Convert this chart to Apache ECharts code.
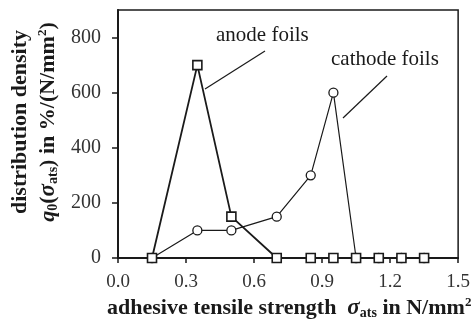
<!DOCTYPE html>
<html>
<head>
<meta charset="utf-8">
<script src="https://cdn.jsdelivr.net/npm/echarts@6/dist/echarts.min.js"></script>
<style>
  html, body { margin: 0; padding: 0; background: #fff; }
  #main { width: 473px; height: 327px; }
</style>
</head>
<body>
<div id="main"></div>
<script>
  // adhesive tensile strength (N/mm²)
  const strength = [0.15, 0.35, 0.5, 0.7, 0.85, 0.95, 1.05, 1.15, 1.25, 1.35]
  // distribution density in %/(N/mm²)
  const anodeFoils = [0, 700, 150, 0, 0, 0, 0, 0, 0, 0]
  const cathodeFoils = [0, 100, 100, 150, 300, 600, 0, 0, 0, 0]
  const yTicks = [0, 200, 400, 600, 800]

  const serif = '"Liberation Serif", "DejaVu Serif", serif'
  const ink = '#1a1a1a'

  const chart = echarts.init(document.getElementById('main'))

  const pairs = (ys) => strength.map((x, i) => [x, ys[i]])

  const titleRich = {
    b: { font: 'bold 22px ' + serif, fill: ink },
    i: { font: 'italic bold 22px ' + serif, fill: ink },
    g: { font: 'italic bold 23px ' + serif, fill: ink },
    s: { font: 'bold 14px ' + serif, fill: ink, padding: [10, 0, 0, 0] },
    p: { font: 'bold 13px ' + serif, fill: ink, padding: [0, 0, 10, 0] }
  }

  const option = {
    backgroundColor: '#fff',
    animation: false,
    grid: {
      left: 118, right: 13, top: 10, bottom: 69,
      show: true, borderColor: ink, borderWidth: 1.5, backgroundColor: 'transparent'
    },
    xAxis: {
      type: 'value', min: 0, max: 1.5, interval: 0.3,
      axisLine: { lineStyle: { color: ink, width: 2 } },
      axisTick: { show: true, length: 5, lineStyle: { color: ink, width: 1.5 } },
      axisLabel: {
        color: '#333', fontFamily: serif, fontSize: 19, margin: 15,
        formatter: (v) => v.toFixed(1)
      },
      splitLine: { show: false }
    },
    yAxis: {
      type: 'value', min: 0, max: 900, interval: 100,
      axisLine: { show: true, lineStyle: { color: ink, width: 2 } },
      axisTick: {
        show: true, length: 6, lineStyle: { color: ink, width: 1.5 },
        customValues: yTicks
      },
      axisLabel: {
        color: '#333', fontFamily: serif, fontSize: 20, margin: 17,
        customValues: yTicks
      },
      splitLine: { show: false }
    },
    series: [
      {
        name: 'cathode foils', type: 'line', data: pairs(cathodeFoils),
        symbol: 'circle', symbolSize: 9,
        lineStyle: { color: ink, width: 1.2 },
        itemStyle: { color: '#fff', borderColor: ink, borderWidth: 1.3 },
        z: 2
      },
      {
        name: 'anode foils', type: 'line', data: pairs(anodeFoils),
        symbol: 'rect', symbolSize: 9,
        lineStyle: { color: ink, width: 1.8 },
        itemStyle: { color: '#fff', borderColor: ink, borderWidth: 1.6 },
        z: 3
      }
    ],
    graphic: [
      // annotations
      { type: 'text', left: 216, top: 25, style: { text: 'anode foils', font: '21px ' + serif, fill: ink } },
      { type: 'line', shape: { x1: 265, y1: 51, x2: 205, y2: 89 }, style: { stroke: ink, lineWidth: 1.2 } },
      { type: 'text', left: 331, top: 49, style: { text: 'cathode foils', font: '21px ' + serif, fill: ink } },
      { type: 'line', shape: { x1: 387, y1: 76, x2: 343, y2: 118 }, style: { stroke: ink, lineWidth: 1.2 } },
      // y axis title, two lines
      {
        type: 'text', x: 20, y: 122, rotation: Math.PI / 2,
        style: {
          text: 'distribution density', font: 'bold 22px ' + serif, fill: ink,
          align: 'center', verticalAlign: 'middle'
        }
      },
      {
        type: 'text', x: 48, y: 122, rotation: Math.PI / 2,
        style: {
          text: '{i|q}{s|0}{b|(}{g|σ}{s|ats}{b|) in %/(N/mm}{p|2}{b|)}',
          font: 'bold 22px ' + serif, fill: ink,
          align: 'center', verticalAlign: 'middle',
          rich: titleRich
        }
      },
      // x axis title
      {
        type: 'text', x: 107, y: 308,
        style: {
          text: '{b|adhesive tensile strength  }{g|σ}{s|ats}{b| in N/mm}{p|2}',
          font: 'bold 22px ' + serif, fill: ink,
          align: 'left', verticalAlign: 'middle',
          rich: titleRich
        }
      }
    ]
  }

  chart.setOption(option)
</script>
</body>
</html>
